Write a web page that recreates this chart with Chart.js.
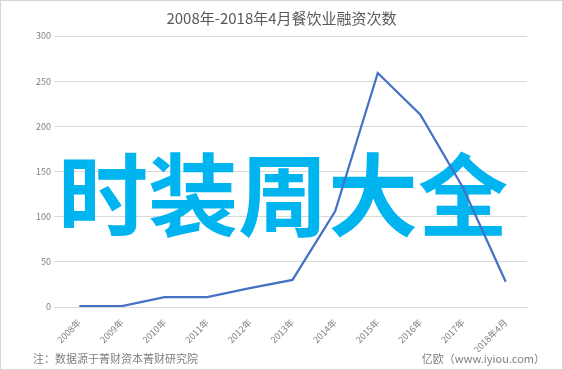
<!DOCTYPE html>
<html>
<head>
<meta charset="utf-8">
<script src="https://cdn.jsdelivr.net/npm/chart.js@4.4.1/dist/chart.umd.min.js"></script>
<style>
    body { margin: 0; background: #fff; }
    #box {
        position: relative;
        width: 563px;
        height: 370px;
        box-sizing: border-box;
        border: 1px solid #d6d6d6;
        font-family: "Noto Sans CJK SC", "Noto Sans", sans-serif;
    }
    #box canvas { position: absolute; left: -1px; top: -1px; }
    #title {
        position: absolute; left: 0; right: 0; top: 6px;
        text-align: center; font-size: 15px; color: #595959;
    }
    .note { position: absolute; top: 349px; font-size: 11px; color: #7f7f7f; }
</style>
</head>
<body>
<div id="box">
    <canvas id="finance-chart" width="563" height="370"></canvas>
    <div id="title"></div>
    <div class="note" style="left: 32px;">注：数据源于菁财资本菁财研究院</div>
    <div class="note" style="right: 17px;">亿欧（www.iyiou.com）</div>
</div>
<script>
var years = ['2008年', '2009年', '2010年', '2011年', '2012年', '2013年', '2014年', '2015年', '2016年', '2017年', '2018年4月'];
var counts = [1, 1, 11, 11, 21, 30, 106, 259, 213, 132, 28];
var yTicks = [0, 50, 100, 150, 200, 250, 300];
var chartTitle = '2008年-2018年4月餐饮业融资次数';
var watermark = '时装周大全';

document.getElementById('title').textContent = chartTitle;

// watermark sits above the grid but under the line
var markPlugin = {
    id: 'mark',
    beforeDatasetsDraw: function (chart) {
        var ctx = chart.ctx;
        ctx.save();
        ctx.font = 'bold 90px "Noto Sans CJK SC"';
        ctx.fillStyle = '#00b4ef';
        ctx.textAlign = 'center';
        ctx.textBaseline = 'middle';
        ctx.fillText(watermark, 283, 195);
        ctx.restore();
    }
};

var ctx = document.getElementById('finance-chart').getContext('2d');
var myChart = new Chart(ctx, {
    type: 'line',
    data: {
        labels: years,
        datasets: [
        {
            label: '融资次数',
            data: counts,
            borderColor: '#4472c4',
            borderWidth: 2.25,
            pointRadius: 0,
            tension: 0,
            fill: false
        }
        ]
    },
    options: {
        responsive: false,
        animation: false,
        layout: { padding: { left: 0, right: 36, top: 36, bottom: 18 } },
        plugins: {
            legend: { display: false },
            tooltip: { enabled: false },
            title: { display: false }
        },
        scales: {
            x: {
                offset: true,
                grid: { display: false },
                border: { color: '#d9d9d9' },
                ticks: {
                    color: '#7f7f7f',
                    font: { family: '"Noto Sans CJK SC"', size: 9 },
                    maxRotation: 45,
                    minRotation: 45,
                    autoSkip: false,
                    padding: 2
                },
                afterFit: function (scale) { scale.height = 45; }
            },
            y: {
                min: 0,
                max: 300,
                afterBuildTicks: function (scale) {
                    scale.ticks = yTicks.map(function (v) { return { value: v }; });
                },
                grid: { color: '#d9d9d9', drawTicks: true, tickLength: 4 },
                border: { display: false },
                ticks: {
                    color: '#7f7f7f',
                    font: { family: '"Noto Sans CJK SC"', size: 9 },
                    padding: 3
                },
                afterFit: function (scale) { scale.width = 58; }
            }
        }
    },
    plugins: [markPlugin]
});
</script>
</body>
</html>
